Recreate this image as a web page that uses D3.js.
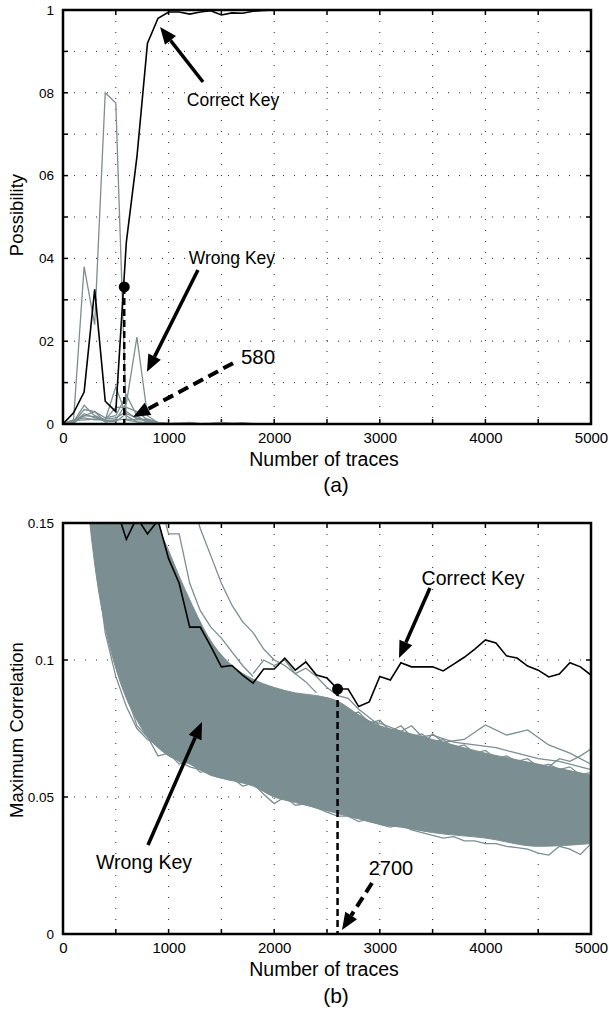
<!DOCTYPE html>
<html>
<head>
<meta charset="utf-8">
<script src="https://cdn.jsdelivr.net/npm/d3@7"></script>
<style>
  body { margin: 0; background: #fff; }
  svg { display: block; font-family: "Liberation Sans", Arial, sans-serif; }
</style>
</head>
<body>
<script>
// ---- data ----
const xTickVals = [0, 1000, 2000, 3000, 4000, 5000];
const xGridVals = [500, 1000, 1500, 2000, 2500, 3000, 3500, 4000, 4500];

const yTicksA = [0, 0.2, 0.4, 0.6, 0.8, 1];
const yLabelsA = ['0', '02', '04', '06', '08', '1'];
const yGridA = [0.1, 0.2, 0.3, 0.4, 0.5, 0.6, 0.7, 0.8, 0.9];

const yTicksB = [0, 0.05, 0.1, 0.15];
const yLabelsB = ['0', '0.05', '0.1', '0.15'];
const yGridB = [0.05, 0.1];

// (a) possibility vs number of traces
const tracesA = [0, 100, 200, 300, 400, 500, 600, 700, 800, 900, 1000, 1100, 1200, 1300, 1400, 1500, 1600, 1700, 1800, 1900, 2000];
const correctA = [0, 0.027, 0.077, 0.325, 0.055, 0.03, 0.44, 0.645, 0.92, 0.98, 0.995, 0.995, 0.99, 0.995, 0.998, 0.988, 0.993, 0.992, 0.997, 0.999, 1];
const wrongA1 = [0, 0.01, 0.38, 0.24, 0.8, 0.775, 0.01, 0.005, 0.003, 0, 0, 0, 0, 0, 0, 0, 0, 0, 0, 0, 0];
const wrongA2 = [0, 0.005, 0.045, 0.02, 0.01, 0.09, 0.02, 0.005, 0, 0, 0, 0.002, 0, 0, 0, 0, 0, 0, 0, 0, 0];
const wrongA3 = [0, 0.003, 0.035, 0.03, 0.015, 0.02, 0.07, 0.02, 0.003, 0, 0, 0, 0, 0, 0, 0, 0, 0, 0, 0, 0];
const wrongA4 = [0, 0.002, 0.02, 0.03, 0.005, 0.01, 0.05, 0.21, 0.02, 0.003, 0, 0, 0, 0, 0, 0, 0, 0, 0, 0, 0];
const wrongA5 = [0, 0.004, 0.025, 0.015, 0.01, 0.04, 0.04, 0.03, 0.01, 0.002, 0, 0, 0, 0, 0, 0, 0, 0, 0, 0, 0];
const wrongA6 = [0, 0.01, 0.015, 0.01, 0.012, 0.015, 0.03, 0.012, 0.008, 0.003, 0.001, 0.002, 0.004, 0.001, 0.002, 0.004, 0.002, 0.003, 0.001, 0, 0];
const wrongA7 = [0, 0.008, 0.01, 0.012, 0.008, 0.01, 0.012, 0.01, 0.012, 0.004, 0.002, 0.001, 0.002, 0.001, 0.001, 0.002, 0.001, 0.001, 0, 0, 0];
const wrongA8 = [0, 0.006, 0.02, 0.018, 0.006, 0.006, 0.025, 0.015, 0.006, 0.002, 0.001, 0, 0.001, 0, 0, 0.001, 0, 0, 0, 0, 0];
const dotA = [580, 0.331];

// (b) maximum correlation vs number of traces
const tracesB = [500, 600, 700, 800, 900, 1000, 1100, 1200, 1300, 1400, 1500, 1600, 1700, 1800, 1900, 2000, 2100, 2200, 2300, 2400, 2500, 2600, 2700, 2800, 2900, 3000, 3100, 3200, 3300, 3400, 3500, 3600, 3700, 3800, 3900, 4000, 4100, 4200, 4300, 4400, 4500, 4600, 4700, 4800, 4900, 5000];
const correctB = [0.156, 0.144, 0.152, 0.146, 0.151, 0.137, 0.128, 0.112, 0.112, 0.105, 0.0975, 0.098, 0.0945, 0.0916, 0.0967, 0.0967, 0.1007, 0.0963, 0.0993, 0.0945, 0.0934, 0.0894, 0.0894, 0.083, 0.0847, 0.094, 0.0927, 0.099, 0.0975, 0.0975, 0.0975, 0.096, 0.0985, 0.101, 0.104, 0.1073, 0.1062, 0.1015, 0.1007, 0.0978, 0.0963, 0.0938, 0.0949, 0.099, 0.0975, 0.0945];
const dotB = [2600, 0.0894];

// envelope of the dense wrong-key bundle
const bandN = [200, 300, 400, 500, 600, 700, 800, 900, 1000, 1200, 1400, 1600, 1800, 2000, 2200, 2400, 2600, 2800, 3000, 3200, 3500, 4000, 4500, 5000];
const bandLow = [0.17, 0.135, 0.112, 0.097, 0.086, 0.078, 0.072, 0.068, 0.065, 0.062, 0.058, 0.056, 0.054, 0.05, 0.048, 0.046, 0.044, 0.042, 0.04, 0.039, 0.037, 0.035, 0.032, 0.033];
const bandHigh = [0.25, 0.25, 0.25, 0.25, 0.22, 0.2, 0.17, 0.15, 0.14, 0.122, 0.107, 0.098, 0.093, 0.09, 0.088, 0.087, 0.085, 0.08, 0.076, 0.074, 0.071, 0.066, 0.062, 0.058];

// stray wrong-key traces outside the bundle
const strayN1 = [900, 1000, 1100, 1200, 1300, 1400, 1500, 1600, 1700, 1800];
const strayV1 = [0.16, 0.146, 0.146, 0.128, 0.118, 0.112, 0.108, 0.103, 0.098, 0.094];
const strayN2 = [1200, 1300, 1400, 1500, 1600, 1700, 1800, 1900, 2000, 2100, 2200, 2300, 2400];
const strayV2 = [0.16, 0.148, 0.138, 0.128, 0.12, 0.114, 0.11, 0.104, 0.1, 0.098, 0.095, 0.092, 0.088];
const strayN3 = [1800, 1900, 2000, 2100, 2200, 2300, 2400, 2500, 2600, 2700, 2800, 2900, 3000];
const strayV3 = [0.095, 0.1, 0.098, 0.1, 0.095, 0.097, 0.094, 0.09, 0.087, 0.086, 0.082, 0.079, 0.076];
const strayN4 = [3000, 3200, 3400, 3500, 3600, 3800, 4000, 4200, 4400, 4600, 4800, 5000];
const strayV4 = [0.07, 0.071, 0.069, 0.073, 0.07, 0.071, 0.0763, 0.0726, 0.0745, 0.069, 0.066, 0.062];
const strayN5 = [4000, 4200, 4400, 4600, 4700, 4800, 4900, 5000];
const strayV5 = [0.062, 0.061, 0.06, 0.061, 0.064, 0.063, 0.065, 0.0675];
const strayN6 = [2800, 3000, 3200, 3300, 3400, 3500, 3700, 3900, 4100, 4300, 4500, 4700, 4900, 5000];
const strayV6 = [0.078, 0.077, 0.074, 0.076, 0.072, 0.0726, 0.07, 0.069, 0.068, 0.066, 0.064, 0.063, 0.061, 0.06];
const strayN7 = [1600, 1700, 1800, 1900, 2000, 2100, 2200, 2300, 2400, 2500, 2600, 2700, 2800, 2900, 3000, 3100, 3200, 3300, 3400];
const strayV7 = [0.057, 0.054, 0.055, 0.051, 0.0476, 0.05, 0.047, 0.0475, 0.046, 0.0445, 0.043, 0.043, 0.041, 0.042, 0.04, 0.039, 0.04, 0.038, 0.037];
const strayN8 = [3400, 3500, 3600, 3700, 3800, 3900, 4000, 4100, 4200, 4300, 4400, 4500, 4600, 4700, 4800, 4900, 5000];
const strayV8 = [0.037, 0.036, 0.035, 0.0355, 0.034, 0.034, 0.033, 0.033, 0.032, 0.0315, 0.031, 0.0295, 0.0288, 0.032, 0.031, 0.029, 0.033];
const strayN9 = [300, 400, 500, 600, 700, 800, 900, 1000, 1100, 1200, 1300, 1400, 1500, 1600];
const strayV9 = [0.14, 0.11, 0.094, 0.083, 0.075, 0.071, 0.069, 0.066, 0.063, 0.061, 0.06, 0.058, 0.057, 0.056];
const strayN10 = [2600, 2700, 2800, 2900, 3000, 3100, 3200, 3300, 3400, 3500, 3600, 3700, 3800, 3900, 4000, 4100, 4200, 4300, 4400, 4500, 4600, 4700, 4800, 4900, 5000];
const strayV10 = [0.083, 0.08, 0.081, 0.077, 0.078, 0.074, 0.076, 0.072, 0.073, 0.07, 0.071, 0.068, 0.069, 0.066, 0.067, 0.064, 0.065, 0.063, 0.064, 0.061, 0.062, 0.06, 0.061, 0.058, 0.059];
const strayN11 = [600, 700, 800, 900, 1000, 1100, 1200, 1300, 1400, 1500];
const strayV11 = [0.088, 0.076, 0.072, 0.065, 0.066, 0.062, 0.063, 0.059, 0.06, 0.057];

// ---- layout ----
const width = 609, height = 1013;
const gray = '#7b8e91';
const left = 63, right = 591;

const svg = d3.select('body').append('svg')
  .attr('width', width)
  .attr('height', height);

const x = d3.scaleLinear().domain([0, 5000]).range([left, right]);
const yA = d3.scaleLinear().domain([0, 1]).range([424, 10]);
const yB = d3.scaleLinear().domain([0, 0.15]).range([934, 523]);

function zip(xs, ys) { return xs.map((d, i) => [d, ys[i]]); }

function drawArrow(g, x1, y1, x2, y2, dashed) {
  const ang = Math.atan2(y2 - y1, x2 - x1);
  const len = 17, half = 7;
  const bx = x2 - len * Math.cos(ang), by = y2 - len * Math.sin(ang);
  g.append('line')
    .attr('x1', x1).attr('y1', y1).attr('x2', bx).attr('y2', by)
    .attr('stroke', '#000').attr('stroke-width', dashed ? 4 : 3.5)
    .attr('stroke-dasharray', dashed ? '11,6' : null);
  g.append('path')
    .attr('d', `M${x2},${y2}L${bx + half * Math.sin(ang)},${by - half * Math.cos(ang)}L${bx - half * Math.sin(ang)},${by + half * Math.cos(ang)}Z`)
    .attr('fill', '#000');
}

function frame(y, yTicks, yLabels, yGrid, clipId, xTitleY, capY, cap, yTitle, yTitleY) {
  const [y0, y1] = y.range();
  const g = svg.append('g');

  svg.append('clipPath').attr('id', clipId)
    .append('rect').attr('x', left).attr('y', y1).attr('width', right - left).attr('height', y0 - y1);

  // dotted grid
  g.selectAll('line.gx').data(xGridVals).enter().append('line')
    .attr('x1', d => x(d)).attr('x2', d => x(d)).attr('y1', y1).attr('y2', y0)
    .attr('stroke', '#222').attr('stroke-width', 1).attr('stroke-dasharray', '1,10');
  g.selectAll('line.gy').data(yGrid).enter().append('line')
    .attr('y1', d => y(d)).attr('y2', d => y(d)).attr('x1', left).attr('x2', right)
    .attr('stroke', '#222').attr('stroke-width', 1).attr('stroke-dasharray', '1,10');

  // inward ticks on all four sides
  g.append('g').attr('transform', `translate(0,${y0})`)
    .call(d3.axisBottom(x).tickValues(xTickVals).tickSizeInner(0).tickSizeOuter(0).tickPadding(8)
      .tickFormat(d3.format('d')))
    .call(a => a.select('.domain').remove())
    .call(a => a.selectAll('text').attr('font-size', 15).attr('fill', '#000').attr('font-family', 'Liberation Sans, Arial, sans-serif'));
  [y0, y1].forEach((yy, k) => {
    g.selectAll(null).data(xGridVals).enter().append('line')
      .attr('x1', d => x(d)).attr('x2', d => x(d))
      .attr('y1', yy).attr('y2', k === 0 ? yy - 5 : yy + 5)
      .attr('stroke', '#000').attr('stroke-width', 1.5);
  });
  [left, right].forEach((xx, k) => {
    g.selectAll(null).data(yGrid).enter().append('line')
      .attr('y1', d => y(d)).attr('y2', d => y(d))
      .attr('x1', xx).attr('x2', k === 0 ? xx + 5 : xx - 5)
      .attr('stroke', '#000').attr('stroke-width', 1.5);
  });

  g.append('g').attr('transform', `translate(${left},0)`)
    .call(d3.axisLeft(y).tickValues(yTicks).tickSize(0).tickPadding(9)
      .tickFormat((d, i) => yLabels[i]))
    .call(a => a.select('.domain').remove())
    .call(a => a.selectAll('text').attr('font-size', 13.5).attr('fill', '#000').attr('font-family', 'Liberation Sans, Arial, sans-serif'));

  svg.append('text').attr('x', 324).attr('y', xTitleY)
    .attr('text-anchor', 'middle').attr('font-size', 19.5).text('Number of traces');
  svg.append('text').attr('x', 336).attr('y', capY)
    .attr('text-anchor', 'middle').attr('font-size', 21).text(cap);
  svg.append('text')
    .attr('transform', `translate(23,${yTitleY}) rotate(-90)`)
    .attr('text-anchor', 'middle').attr('font-size', 18.5).text(yTitle);
  return g;
}

function border(y) {
  const [y0, y1] = y.range();
  svg.append('rect').attr('x', left).attr('y', y1)
    .attr('width', right - left).attr('height', y0 - y1)
    .attr('fill', 'none').attr('stroke', '#000').attr('stroke-width', 2.5);
}

// ---------- (a) ----------
frame(yA, yTicksA, yLabelsA, yGridA, 'clipA', 466, 492, '(a)', 'Possibility', 215);

const lineA = d3.line().x(d => x(d[0])).y(d => yA(d[1]));
const plotA = svg.append('g').attr('clip-path', 'url(#clipA)');
const wrongSetA = [wrongA8, wrongA7, wrongA6, wrongA5, wrongA3, wrongA2, wrongA4, wrongA1];
plotA.selectAll('path.wrong').data(wrongSetA).enter().append('path')
  .attr('d', d => lineA(zip(tracesA, d)))
  .attr('fill', 'none').attr('stroke', gray).attr('stroke-width', 1.3);
plotA.append('path').attr('d', lineA(zip(tracesA, correctA)))
  .attr('fill', 'none').attr('stroke', '#000').attr('stroke-width', 1.6);

plotA.append('line')
  .attr('x1', x(dotA[0])).attr('x2', x(dotA[0])).attr('y1', yA(dotA[1])).attr('y2', yA(0))
  .attr('stroke', '#000').attr('stroke-width', 2.5).attr('stroke-dasharray', '7,4');
plotA.append('circle').attr('cx', x(dotA[0])).attr('cy', yA(dotA[1])).attr('r', 5.5).attr('fill', '#000');
border(yA);

const annA = svg.append('g');
annA.append('text').attr('x', x(1610)).attr('y', yA(0.768)).attr('text-anchor', 'middle').attr('font-size', 17.5).text('Correct Key');
drawArrow(annA, x(1326), yA(0.826), x(919), yA(0.959), false);
annA.append('text').attr('x', x(1600)).attr('y', yA(0.386)).attr('text-anchor', 'middle').attr('font-size', 17.5).text('Wrong Key');
drawArrow(annA, x(1278), yA(0.372), x(795), yA(0.126), false);
annA.append('text').attr('x', x(1847)).attr('y', yA(0.145)).attr('text-anchor', 'middle').attr('font-size', 20.5).text('580');
drawArrow(annA, x(1610), yA(0.147), x(663), yA(0.017), true);

// ---------- (b) ----------
frame(yB, yTicksB, yLabelsB, yGridB, 'clipB', 976, 1003, '(b)', 'Maximum Correlation', 730);

const lineB = d3.line().x(d => x(d[0])).y(d => yB(d[1]));
const plotB = svg.append('g').attr('clip-path', 'url(#clipB)');
const bandArea = d3.area()
  .x(d => x(d[0])).y0(d => yB(d[1])).y1(d => yB(d[2]))
  .curve(d3.curveMonotoneX);
plotB.append('path')
  .attr('d', bandArea(bandN.map((n, i) => [n, bandLow[i], bandHigh[i]])))
  .attr('fill', gray).attr('stroke', gray).attr('stroke-width', 1);

const strays = [
  [strayN1, strayV1], [strayN2, strayV2], [strayN3, strayV3], [strayN4, strayV4], [strayN5, strayV5],
  [strayN6, strayV6], [strayN7, strayV7], [strayN8, strayV8], [strayN9, strayV9], [strayN10, strayV10],
  [strayN11, strayV11]
];
plotB.selectAll('path.stray').data(strays).enter().append('path')
  .attr('d', d => lineB(zip(d[0], d[1])))
  .attr('fill', 'none').attr('stroke', gray).attr('stroke-width', 1.3);

plotB.append('path').attr('d', lineB(zip(tracesB, correctB)))
  .attr('fill', 'none').attr('stroke', '#000').attr('stroke-width', 1.6);
plotB.append('line')
  .attr('x1', x(dotB[0])).attr('x2', x(dotB[0])).attr('y1', yB(dotB[1])).attr('y2', yB(0))
  .attr('stroke', '#000').attr('stroke-width', 2.5).attr('stroke-dasharray', '7,4');
plotB.append('circle').attr('cx', x(dotB[0])).attr('cy', yB(dotB[1])).attr('r', 5.5).attr('fill', '#000');
border(yB);

const annB = svg.append('g');
annB.append('text').attr('x', x(3883)).attr('y', yB(0.1274)).attr('text-anchor', 'middle').attr('font-size', 19.5).text('Correct Key');
drawArrow(annB, x(3475), yB(0.1263), x(3182), yB(0.1007), false);
annB.append('text').attr('x', x(767)).attr('y', yB(0.0237)).attr('text-anchor', 'middle').attr('font-size', 19.5).text('Wrong Key');
drawArrow(annB, x(805), yB(0.0325), x(1316), yB(0.0774), false);
annB.append('text').attr('x', x(3106)).attr('y', yB(0.0215)).attr('text-anchor', 'middle').attr('font-size', 20).text('2700');
drawArrow(annB, x(2926), yB(0.0186), x(2642), yB(0.0015), true);
</script>
</body>
</html>
